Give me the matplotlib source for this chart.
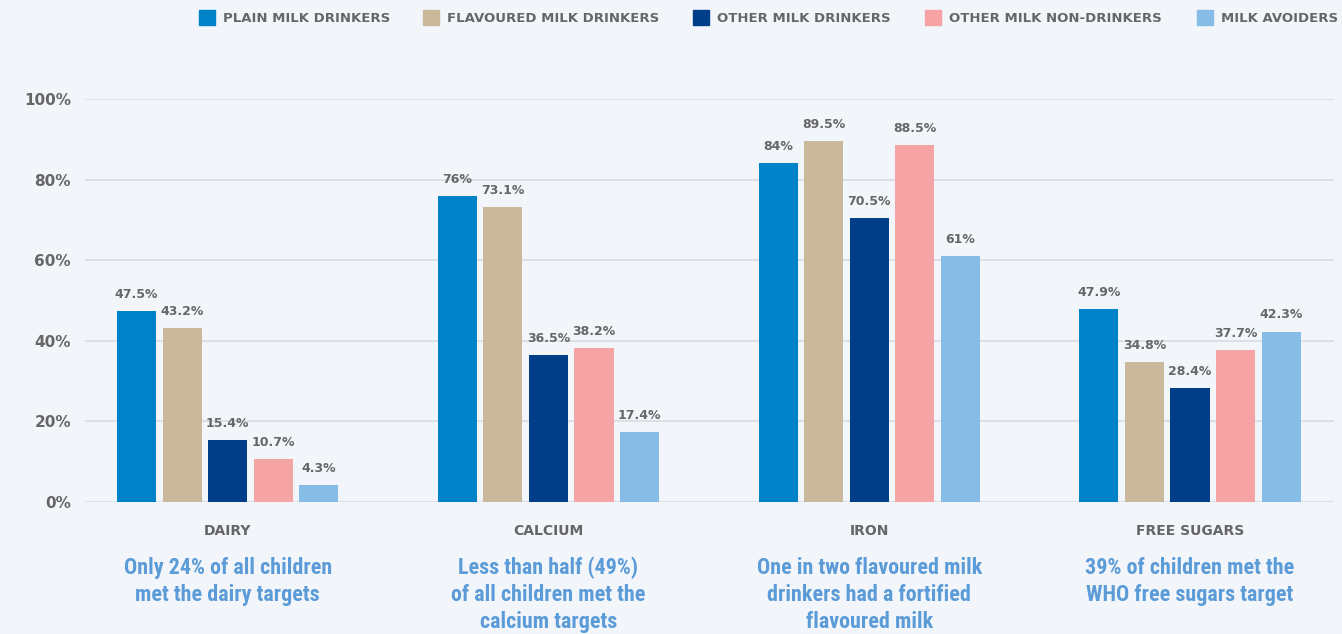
import matplotlib.pyplot as plt
import numpy as np
from matplotlib.patches import Rectangle
from matplotlib import font_manager

# Data
categories = ['DAIRY', 'CALCIUM', 'IRON', 'FREE SUGARS']
series_names = ['PLAIN MILK DRINKERS', 'FLAVOURED MILK DRINKERS', 'OTHER MILK DRINKERS',
                'OTHER MILK NON-DRINKERS', 'MILK AVOIDERS']
plain = [47.5, 76, 84, 47.9]
flavoured = [43.2, 73.1, 89.5, 34.8]
other = [15.4, 36.5, 70.5, 28.4]
non_drinkers = [10.7, 38.2, 88.5, 37.7]
avoiders = [4.3, 17.4, 61, 42.3]
notes = ['Only 24% of all children\nmet the dairy targets',
         'Less than half (49%)\nof all children met the\ncalcium targets',
         'One in two flavoured milk\ndrinkers had a fortified\nflavoured milk',
         '39% of children met the\nWHO free sugars target']
yticks = [0, 20, 40, 60, 80, 100]

colors = ['#0082c8', '#c9b99a', '#003f87', '#f5a3a5', '#86bce6']
bg = '#f2f6fb'
gray = '#666666'
note_blue = '#5b9bd7'

series = [plain, flavoured, other, non_drinkers, avoiders]

# pick a narrow font for the notes if one is available
installed = {f.name for f in font_manager.fontManager.ttflist}
note_family = 'DejaVu Sans'
note_size = 12
for cand in ['Liberation Sans Narrow', 'Roboto Condensed', 'Open Sans Condensed']:
    if cand in installed:
        note_family = cand
        note_size = 15.8
        break

fig = plt.figure(figsize=(13.42, 6.34), dpi=100, facecolor=bg)
ax = fig.add_axes([0.0633, 0.208, 0.931, 0.636], facecolor=bg)

x = np.arange(len(categories))
width = 0.122
pitch = 0.142
for i, (vals, col) in enumerate(zip(series, colors)):
    pos = x + (i - 2) * pitch
    bars = ax.bar(pos, vals, width=width, color=col, zorder=3)
    for b, v in zip(bars, vals):
        ax.text(b.get_x() + b.get_width() / 2, v + 2.5, f'{v:g}%',
                ha='center', va='bottom', fontsize=9, fontweight='bold', color=gray)

ax.set_xlim(-0.445, 3.45)
ax.set_ylim(0, 100)
ax.set_yticks(yticks)
ax.set_yticklabels([f'{t}%' for t in yticks], fontsize=11, fontweight='bold', color=gray)
ax.yaxis.grid(True, color='#d8dce2', linewidth=1.2, zorder=0)
ax.tick_params(axis='y', length=0, pad=10)
ax.set_xticks([])
for s in ax.spines.values():
    s.set_visible(False)

# Category labels and notes
for xi, cat, note in zip(x, categories, notes):
    ax.text(xi, -7.2, cat, ha='center', va='center', fontsize=10, fontweight='bold',
            color=gray)
    ax.text(xi, -13.5, note, ha='center', va='top', fontsize=note_size, fontweight='bold',
            color=note_blue, linespacing=1.3, family=note_family)

# Legend at top
leg_x = [199, 423, 693, 925, 1197]
for lx, name, col in zip(leg_x, series_names, colors):
    fig.patches.append(Rectangle((lx / 1342, 1 - 25 / 634), 16 / 1342, 15 / 634,
                                 transform=fig.transFigure, color=col))
    fig.text((lx + 24) / 1342, 1 - 19 / 634, name, ha='left', va='center',
             fontsize=9.5, fontweight='bold', color=gray)

fig.savefig('out.png', dpi=100, facecolor=bg)
